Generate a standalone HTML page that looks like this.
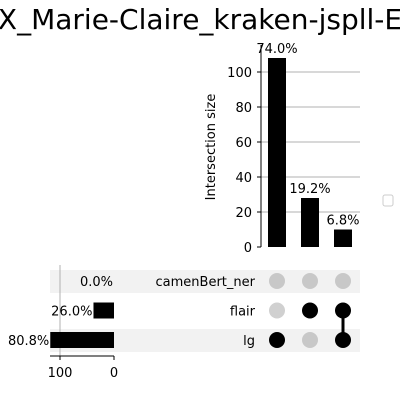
<!DOCTYPE html>
<html><head><meta charset="utf-8"><style>body{margin:0;background:#fff}svg{display:block;font-family:"DejaVu Sans","Liberation Sans",sans-serif}</style></head>
<body>
<svg id="c" width="400" height="400" viewBox="0 0 400 400">
<text x="200" y="29" font-size="28" text-anchor="middle">X_Marie-Claire_kraken-jspll-E</text>
<rect x="383" y="195" width="10" height="11" rx="2" fill="none" stroke="#ccc"/>
<g id="g"></g>
</svg>
<script>
const sets = ['camenBert_ner','flair','lg'];
const setSizes = [0, 38, 118];
const setPct = ['0.0%','26.0%','80.8%'];
const interSizes = [108, 28, 10];
const interPct = ['74.0%','19.2%','6.8%'];
const interMembers = [[2],[1],[1,2]];
const yTicks = [0,20,40,60,80,100];
const xTicks = [100,0];

const NS='http://www.w3.org/2000/svg';
const g=document.getElementById('g');
function mk(t,a,txt){const e=document.createElementNS(NS,t);for(const k in a)e.setAttribute(k,a[k]);if(txt!==undefined)e.textContent=txt;g.appendChild(e);return e;}
const y=v=>247-v*1.75;
const cx=i=>277+i*33;
const ry=i=>281+i*29.5;
const sx=v=>114-v*0.54;

sets.forEach((s,i)=>{if(i%2===0){const r=mk('rect',{x:50,y:ry(i)-11,width:310,height:23,fill:'#f2f2f2'});

}});
yTicks.forEach(t=>{if(t>0){const l=mk('line',{x1:261,x2:360,y1:y(t),y2:y(t),stroke:'#b0b0b0','stroke-width':1});

}
const tk=mk('line',{x1:257,x2:261,y1:y(t),y2:y(t),stroke:'#000'});


const tl=mk('text',{x:252,y:y(t)+5,'font-size':13,'text-anchor':'end'},t);

});
const ax=mk('line',{x1:261,x2:261,y1:45,y2:247,stroke:'#000'});


const yt=mk('text',{x:0,y:0,'font-size':13,'text-anchor':'middle',transform:'translate(215,147) rotate(-90)'},'Intersection size');


interSizes.forEach((v,i)=>{const b=mk('rect',{x:cx(i)-9,y:y(v),width:18,height:y(0)-y(v),fill:'#000'});


const t=mk('text',{x:cx(i),y:y(v)-5,'font-size':13,'text-anchor':'middle'},interPct[i]);

});
const vg=mk('line',{x1:sx(100),x2:sx(100),y1:265,y2:356,stroke:'#b0b0b0'});


sets.forEach((s,i)=>{const b=mk('rect',{x:sx(setSizes[i]),y:ry(i)-8,width:114-sx(setSizes[i]),height:16,fill:'#000'});


const t=mk('text',{x:sx(setSizes[i])-1,y:ry(i)+5,'font-size':13,'text-anchor':'end'},setPct[i]);


const n=mk('text',{x:255,y:ry(i)+5,'font-size':13,'text-anchor':'end'},s);

});
const xa=mk('line',{x1:50,x2:114,y1:356,y2:356,stroke:'#000'});


xTicks.forEach(t=>{const tk=mk('line',{x1:sx(t),x2:sx(t),y1:356,y2:360,stroke:'#000'});


const tl=mk('text',{x:sx(t),y:377,'font-size':13,'text-anchor':'middle'},t);

});
interMembers.forEach((m,i)=>{if(m.length>1){const l=mk('line',{x1:cx(i),x2:cx(i),y1:ry(Math.min(...m)),y2:ry(Math.max(...m)),stroke:'#000','stroke-width':3});

}
sets.forEach((s,j)=>{const on=m.includes(j);const c=mk('circle',{cx:cx(i),cy:ry(j),r:8,fill:on?'#000':(j%2===0?'#c8c8c8':'#d0d0d0')});

});});
</script>
</body></html>
